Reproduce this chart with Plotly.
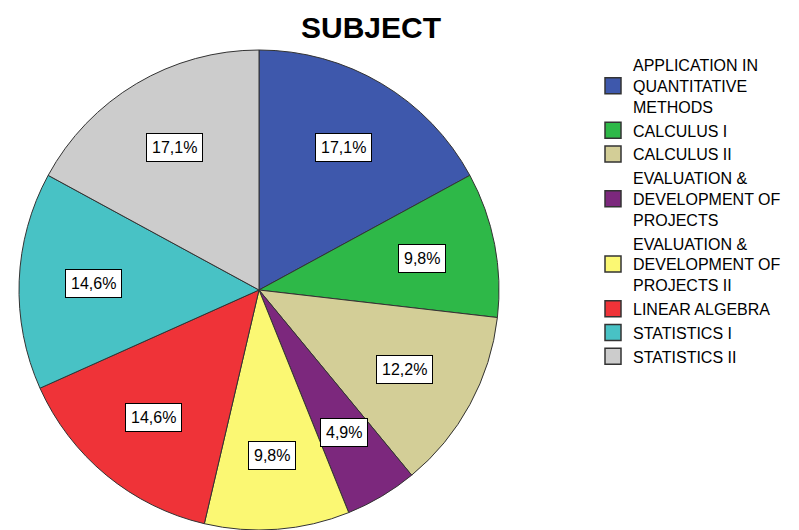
import math
import plotly.graph_objects as go

subjects = [
    "APPLICATION IN<br>QUANTITATIVE<br>METHODS",
    "CALCULUS I",
    "CALCULUS II",
    "EVALUATION &<br>DEVELOPMENT OF<br>PROJECTS",
    "EVALUATION &<br>DEVELOPMENT OF<br>PROJECTS II",
    "LINEAR ALGEBRA",
    "STATISTICS I",
    "STATISTICS II",
]
counts = [7, 4, 5, 2, 4, 6, 6, 7]
colors = ["#3E58AC", "#2EB848", "#D3CE97", "#7C287D", "#FBF873", "#EF3338", "#48C2C5", "#CCCCCC"]

FONT = "Liberation Sans, Arial"
W, H = 799, 530
mt, mb = 36, 8
cx_px, R_px = 251, 240
pie_top = 42
plot_h = H - mt - mb

fig = go.Figure()
fig.add_trace(go.Pie(
    labels=subjects,
    values=counts,
    sort=False,
    direction="clockwise",
    rotation=0,
    marker=dict(colors=colors, line=dict(color="#333333", width=1)),
    textinfo="none",
    hoverinfo="label+percent",
    showlegend=False,
    domain=dict(x=[(cx_px - R_px) / W, (cx_px + R_px) / W],
                y=[0, 1 - (pie_top - mt) / plot_h]),
))

# legend entries (one per slice, same colours)
for i, (lab, col) in enumerate(zip(subjects, colors)):
    fig.add_trace(go.Scatter(
        x=[None], y=[None], mode="markers", name=lab, legendgroup=str(i),
        marker=dict(symbol="square", size=17, color=col, line=dict(color="#333333", width=1.5)),
        showlegend=True, hoverinfo="skip",
    ))

total = sum(counts)
cum = 0
cxp = cx_px / W
cy_fig = pie_top + R_px
cyp = 1 - (cy_fig - mt) / plot_h
for v in counts:
    mid = (cum + v / 2) / total * 2 * math.pi
    cum += v
    r = 0.69 * R_px
    x = cxp + r * math.sin(mid) / W
    y = cyp + r * math.cos(mid) / plot_h
    pct = v / total * 100
    fig.add_annotation(
        x=x, y=y, xref="paper", yref="paper", xanchor="center", yanchor="middle",
        text=f"{pct:.1f}%".replace(".", ","),
        showarrow=False,
        font=dict(family=FONT, size=16, color="black"),
        bgcolor="white", bordercolor="black", borderwidth=1, borderpad=5,
    )

fig.update_layout(
    width=W, height=H,
    margin=dict(l=0, r=0, t=mt, b=mb),
    paper_bgcolor="white", plot_bgcolor="white",
    xaxis=dict(visible=False), yaxis=dict(visible=False),
    title=dict(text="<b>SUBJECT</b>", x=363 / W, xanchor="center", y=1 - 19 / H, yanchor="middle",
               font=dict(family=FONT, size=30, color="black")),
    legend=dict(x=585 / W, xanchor="left",
                y=1 - (40 - mt) / plot_h, yanchor="top",
                font=dict(family=FONT, size=16, color="black"),
                bgcolor="rgba(0,0,0,0)", tracegroupgap=0, traceorder="grouped"),
    font=dict(family=FONT),
)

fig.write_html("out.html")
